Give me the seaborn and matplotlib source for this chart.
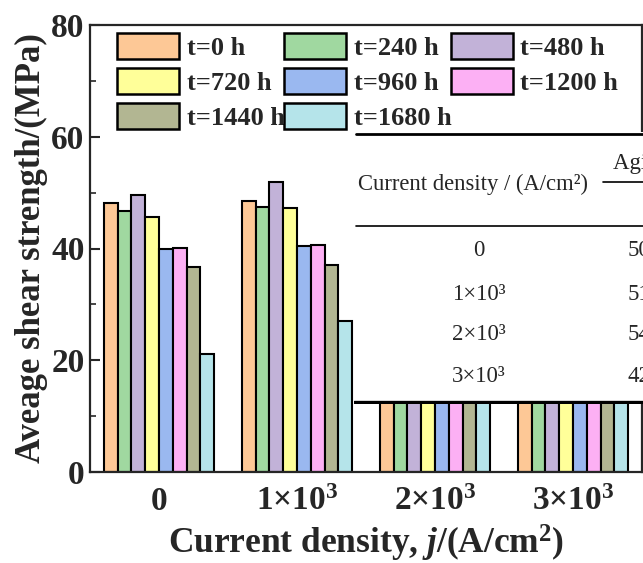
import numpy as np
import pandas as pd
import matplotlib
matplotlib.use('Agg')
import matplotlib.pyplot as plt
from matplotlib.ticker import MultipleLocator
import seaborn as sns

sns.set_style('ticks')
plt.rcParams['font.family'] = ['Liberation Serif', 'DejaVu Serif']
plt.rcParams['font.weight'] = 'bold'
plt.rcParams['mathtext.fontset'] = 'custom'
plt.rcParams['mathtext.rm'] = 'Liberation Serif:bold'
plt.rcParams['mathtext.bf'] = 'Liberation Serif:bold'
plt.rcParams['mathtext.it'] = 'Liberation Serif:italic:bold'

#%% DATA
densities = ['0', '1×10$^3$', '2×10$^3$', '3×10$^3$']
times = ['t=0 h', 't=240 h', 't=480 h', 't=720 h',
         't=960 h', 't=1200 h', 't=1440 h', 't=1680 h']
# shear strength (MPa), one list per aging time, values per current density
s_0h    = [48.1, 48.5, 50.4, 42.1]
s_240h  = [46.7, 47.4, 49.0, 40.8]
s_480h  = [49.6, 51.9, 54.2, 42.5]
s_720h  = [45.7, 47.2, 47.5, 39.6]
s_960h  = [40.0, 40.4, 43.0, 35.2]
s_1200h = [40.1, 40.6, 42.6, 34.7]
s_1440h = [36.7, 37.1, 38.4, 31.0]
s_1680h = [21.1, 27.0, 30.2, 24.5]
colors = ['#fdc896', '#a0d8a0', '#c2b2d8', '#ffff99',
          '#9ab8f0', '#fcb0f4', '#b2b692', '#b5e4ea']

# inset table text
tab_rows = ['0', '1×10³', '2×10³', '3×10³']
tab_vals = ['50.2', '51.6', '54.1', '42.3']

series = [s_0h, s_240h, s_480h, s_720h, s_960h, s_1200h, s_1440h, s_1680h]
df = pd.DataFrame({
    'density': np.tile(densities, len(times)),
    'time': np.repeat(times, len(densities)),
    'strength': np.concatenate(series),
})

#%% PLOT
W, H = 643, 563
fig = plt.figure(figsize=(W / 100, H / 100), dpi=100)
ax = fig.add_axes([90 / W, 1 - 472 / H, 552 / W, 447 / H])

sns.barplot(data=df, x='density', y='strength', hue='time', order=densities,
            hue_order=times, palette=colors, edgecolor='black', linewidth=1.5,
            width=0.8, gap=0, saturation=1, ax=ax, zorder=2)

ax.set_xlim(-0.5, 3.5)
ax.set_ylim(0, 80)
ax.yaxis.set_major_locator(MultipleLocator(20))
ax.yaxis.set_minor_locator(MultipleLocator(10))
ax.tick_params(axis='y', which='major', direction='in', length=7, width=1.5,
               labelsize=24, pad=4)
ax.tick_params(axis='y', which='minor', direction='in', length=4, width=1.2)
ax.tick_params(axis='x', length=0, labelsize=24, pad=10)
for sp in ax.spines.values():
    sp.set_linewidth(1.6)
ax.set_ylabel('Aveage shear strength/(MPa)', fontsize=25, fontweight='bold',
              labelpad=2)
ax.set_xlabel(r'Current density, $j$/(A/cm$^2$)', fontsize=25.5,
              fontweight='bold', labelpad=4)

# legend filled row by row (matplotlib fills columns first)
handles, labels = ax.get_legend_handles_labels()
order = [0, 3, 6, 1, 4, 7, 2, 5]
ax.legend([handles[i] for i in order], [labels[i] for i in order], ncol=3,
          frameon=False, loc='upper left', bbox_to_anchor=(27 / 552, 1 - 8 / 447),
          fontsize=19, handlelength=2.35, handleheight=1.14, handletextpad=0.3,
          columnspacing=-0.04, labelspacing=0.3, borderpad=0, borderaxespad=0)
for p in ax.get_legend().get_patches():
    p.set_linewidth(1.8)

#%% inset table (pixel coords, y measured from top)
tab = fig.add_axes([354 / W, 1 - 404 / H, 1 - 354 / W, 272 / H])
tab.set_facecolor('white')
tab.set_xlim(354, W)
tab.set_ylim(404, 132)
tab.set_xticks([])
tab.set_yticks([])
for sp in tab.spines.values():
    sp.set_visible(False)
tab.plot([356, W], [134, 134], color='black', lw=2.0)
tab.plot([603, W], [182, 182], color='black', lw=1.2)
tab.plot([356, W], [226, 226], color='black', lw=1.2)
tab.plot([354, W], [402, 402], color='black', lw=2.4)
tab.text(613, 163, 'Aging time / h', fontsize=16.5, fontweight='normal',
         va='center', ha='left', clip_on=True)
tab.text(358, 184, 'Current density / (A/cm²)', fontsize=16.3,
         fontweight='normal', va='center', ha='left')
for y, r, v in zip([250, 295, 335, 377], tab_rows, tab_vals):
    tab.text(479, y, r, fontsize=16.5, fontweight='normal', va='center',
             ha='center')
    tab.text(628, y, v, fontsize=16.5, fontweight='normal', va='center',
             ha='left', clip_on=True)

fig.savefig('out.png', dpi=100)
